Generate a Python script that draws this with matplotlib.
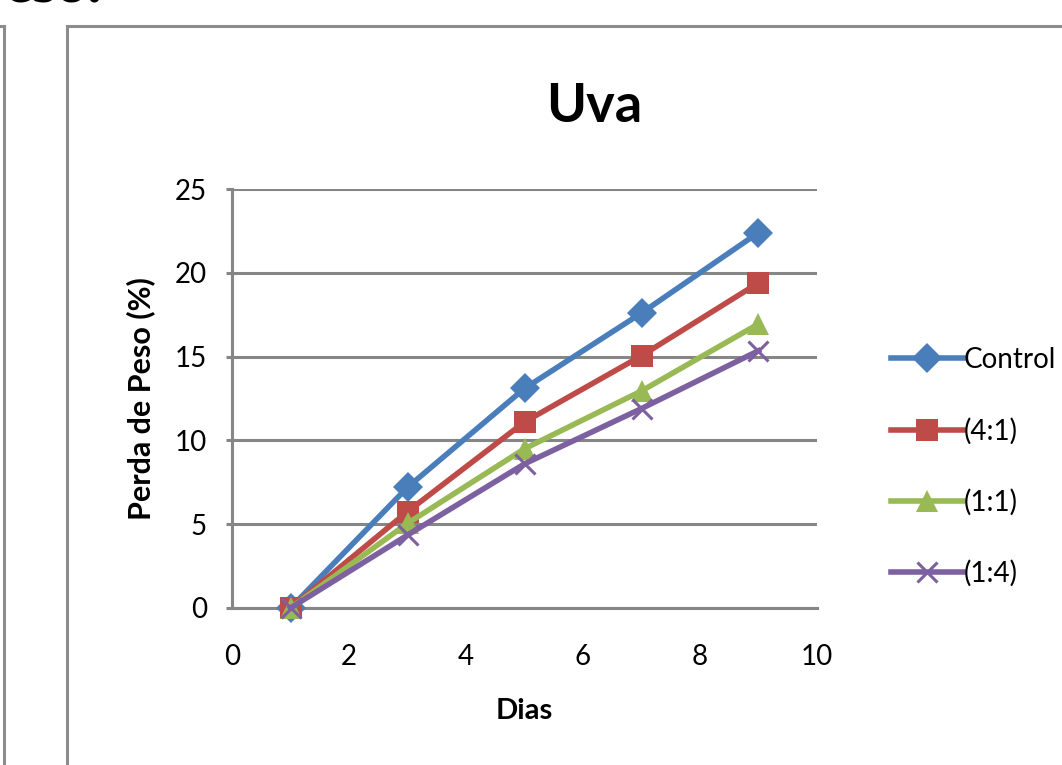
import matplotlib.pyplot as plt
from matplotlib.patches import Rectangle
from matplotlib.lines import Line2D

# perda de peso da uva ao longo dos dias
dias = [1, 3, 5, 7, 9]
controle = [0, 7.2, 13.1, 17.6, 22.4]
trat_4_1 = [0, 5.75, 11.1, 15.05, 19.4]
trat_1_1 = [0, 5.05, 9.5, 12.95, 16.95]
trat_1_4 = [0, 4.35, 8.6, 11.9, 15.35]

series = [("Control", controle, "#4A7EBB", "D", 15),
          ("(4:1)", trat_4_1, "#BE4B48", "s", 16),
          ("(1:1)", trat_1_1, "#98B954", "^", 16),
          ("(1:4)", trat_1_4, "#7D60A0", "x", 14)]

plt.rcParams['font.family'] = ['Lato', 'DejaVu Sans']

fig = plt.figure(figsize=(10.62, 7.65), dpi=100)
W, H = 1062, 765

# moldura do grafico e a borda do grafico vizinho
fig.add_artist(Rectangle((67 / W, -0.1), 1.2, (765 - 26) / H + 0.1,
                         transform=fig.transFigure, fill=False,
                         edgecolor="#8c8c8c", linewidth=2.2))
fig.add_artist(Line2D([4 / W, 4 / W], [0, (765 - 26) / H],
                      transform=fig.transFigure, color="#8c8c8c", linewidth=2.2))
fig.add_artist(Line2D([0, 4 / W], [(765 - 26) / H] * 2,
                      transform=fig.transFigure, color="#8c8c8c", linewidth=2.2))
fig.text(-0.03, 1 - 2 / H, "Peso.", fontsize=44, fontweight="bold",
         family="Liberation Serif", va="baseline", ha="left")

ax = fig.add_axes([232 / W, (765 - 608) / H, (817 - 232) / W, (608 - 189) / H])

for i, (nome, vals, cor, mk, ms) in enumerate(series):
    if mk == "x":
        ax.plot(dias, vals, color=cor, linewidth=4, marker=mk, markersize=ms,
                markeredgewidth=2.2, label=nome, zorder=3 + i, clip_on=False)
    else:
        ax.plot(dias, vals, color=cor, linewidth=4, marker=mk, markersize=ms,
                markeredgewidth=0, label=nome, zorder=3 + i, clip_on=False)

ax.set_xlim(0, 10)
ax.set_ylim(0, 25)
ax.set_xticks([0, 2, 4, 6, 8, 10])
ax.set_yticks([0, 5, 10, 15, 20, 25])
ax.grid(axis="y", color="#868686", linewidth=2.2)
ax.set_axisbelow(True)
for s in ["top", "right"]:
    ax.spines[s].set_visible(False)
for s in ["left", "bottom"]:
    ax.spines[s].set_color("#868686")
    ax.spines[s].set_linewidth(2.2)
ax.tick_params(axis="x", length=0, labelsize=20, pad=26)
ax.tick_params(axis="y", length=4, width=2.2, color="#868686", labelsize=20, pad=14)

ax.set_xlabel("Dias", fontsize=21, fontweight="bold", labelpad=20)
ax.set_ylabel("Perda de Peso (%)", fontsize=22, fontweight="bold", labelpad=14)
fig.text(594 / W, 1 - 107 / H, "Uva", fontsize=39, fontweight="bold",
         ha="center", va="center")

ax.legend(loc="upper left", bbox_to_anchor=(880 / W, 1 - 336 / H),
          bbox_transform=fig.transFigure, frameon=False, fontsize=20,
          handlelength=2.6, handletextpad=0.0, labelspacing=1.6,
          borderaxespad=0)

fig.savefig("out.png", dpi=100)
